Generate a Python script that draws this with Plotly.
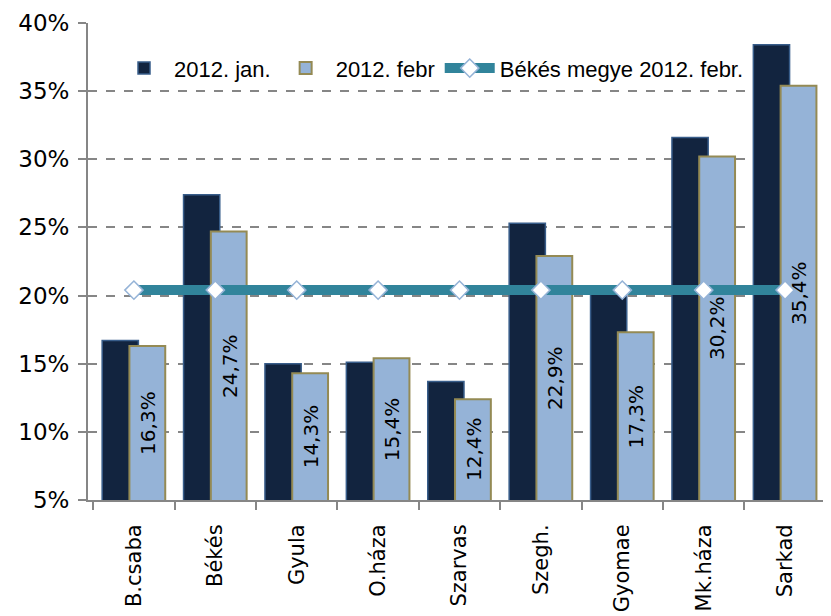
import plotly.graph_objects as go

# data
towns = ["B.csaba", "Békés", "Gyula", "O.háza", "Szarvas",
         "Szegh.", "Gyomae", "Mk.háza", "Sarkad"]
jan_2012 = [16.7, 27.4, 15.0, 15.1, 13.7, 25.3, 20.3, 31.6, 38.4]
feb_2012 = [16.3, 24.7, 14.3, 15.4, 12.4, 22.9, 17.3, 30.2, 35.4]
county_feb = [20.4] * len(towns)

y_min, y_max = 5, 40

label_font = "DejaVu Sans, Verdana, sans-serif"
legend_font = "Liberation Sans Narrow, Arial Narrow, Liberation Sans, sans-serif"

fig = go.Figure()

# dark bars (january)
fig.add_trace(go.Bar(
    x=towns, y=jan_2012, name="2012. jan.",
    marker=dict(color="#12243f", line=dict(color="#385d8a", width=1.5)),
    width=0.445, offset=-0.39,
))

# light bars (february)
fig.add_trace(go.Bar(
    x=towns, y=feb_2012, name="2012. febr",
    marker=dict(color="#95b3d7", line=dict(color="#948a54", width=2)),
    width=0.44, offset=-0.055,
))

# county average line
fig.add_trace(go.Scatter(
    x=towns, y=county_feb, name="Békés megye 2012. febr.",
    mode="lines+markers",
    line=dict(color="#31849b", width=10),
    marker=dict(symbol="diamond", size=14, color="white",
                line=dict(color="#95b3d7", width=1.5)),
))

# rotated value labels, centred on the february bars
for town, val in zip(towns, feb_2012):
    fig.add_annotation(
        x=town, y=(y_min + val) / 2, xshift=14,
        text=f"{val:.1f}%".replace(".", ","),
        textangle=-90, showarrow=False,
        font=dict(family=label_font, size=20, color="black"),
    )

# the page body adds an 8px margin, so the figure is sized to end at the window edge
fig.update_layout(
    width=823, height=608,
    margin=dict(l=80, r=0, t=15, b=116),
    barmode="overlay",
    plot_bgcolor="white", paper_bgcolor="white",
    font=dict(family=label_font, size=22, color="black"),
    showlegend=True,
    legend=dict(
        orientation="h", x=0.035, y=0.905, xanchor="left", yanchor="middle",
        bgcolor="rgba(0,0,0,0)", itemwidth=50,
        font=dict(family=legend_font, size=22, color="black"),
        traceorder="normal",
    ),
)

fig.update_yaxes(
    range=[y_min, y_max], dtick=5, ticksuffix="%",
    showgrid=True, gridcolor="#868686", griddash="dash", gridwidth=1.5,
    showline=True, linecolor="#868686", linewidth=2,
    ticks="outside", ticklen=8, tickcolor="#868686", tickwidth=1.5,
    tickfont=dict(size=23), zeroline=False, automargin=False,
    ticklabelstandoff=4,
)
fig.update_xaxes(
    tickangle=-90, tickson="boundaries",
    showline=True, linecolor="#868686", linewidth=2,
    ticks="outside", ticklen=8, tickcolor="#868686", tickwidth=1.5,
    tickfont=dict(size=21), showgrid=False, automargin=False,
    ticklabelstandoff=14,
)

fig.write_html("out.html")
